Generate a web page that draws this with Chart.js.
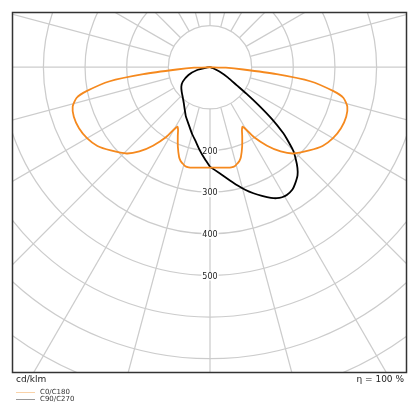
<!DOCTYPE html>
<html>
<head>
<meta charset="utf-8">
<script src="https://cdn.jsdelivr.net/npm/chart.js@4/dist/chart.umd.min.js"></script>
<style>
  html, body { margin: 0; padding: 0; background: #fff; }
  #wrap { width: 420px; height: 420px; }
</style>
</head>
<body>
<div id="wrap"><canvas id="polar-chart"></canvas></div>
<script>
// Light distribution (cd/klm), gamma measured from nadir

const gammaC0 = [0, 5, 10, 12, 14, 16, 17.4, 19, 22, 25, 27, 28.7, 30, 32, 36, 40, 44, 50, 55, 60, 65, 70, 74, 77, 79, 82, 84, 86, 88, 90];
const valuesC0 = [241, 242, 245, 246, 245, 240, 236, 228, 206, 183, 169, 163, 172, 197, 233, 264, 288, 311, 330, 341, 347, 348, 343, 329, 302, 243, 161, 80, 38, 0];
// C180 is the mirror of C0
const valuesC180 = [241, 242, 245, 246, 245, 240, 236, 228, 206, 183, 169, 163, 172, 197, 233, 264, 288, 311, 330, 341, 347, 348, 343, 329, 302, 243, 161, 80, 38, 0];

const gammaC90 = [0, 5, 10, 13, 16, 19, 22, 25, 27, 29, 31, 34, 36, 39, 41, 43, 45, 47, 48, 50, 52, 54, 56, 60, 65, 70, 80, 90];
const valuesC90 = [239, 255, 276, 291, 306, 320, 333, 346, 353, 357, 358, 354, 347, 334, 320, 302, 282, 252, 237, 195, 148, 108, 77, 50, 26, 8, 2, 0];

const gammaC270 = [0, 3, 7, 11, 15, 20, 26, 31, 36, 41, 49, 56, 62, 70, 77, 84, 90];
const valuesC270 = [239, 222, 201, 181, 166, 148, 132, 118, 107, 99, 90, 83, 74, 55, 33, 6, 0];

const ringValues = [100, 200, 300, 400, 500, 600, 700, 800, 900, 1000];
const ringLabels = [200, 300, 400, 500];
const spokeStep = 15;

const unitLabel = "cd/klm";
const effLabel = "η = 100 %";

const ORANGE = "#f5891e";
const BLACK = "#000000";

// polar -> cartesian, side = +1 right half, -1 left half
function toXY(gammas, values, side) {
  return gammas.map((g, i) => {
    const a = g * Math.PI / 180;
    return { x: side * values[i] * Math.sin(a), y: values[i] * Math.cos(a) };
  });
}

const curveA = toXY(gammaC0, valuesC180, -1).reverse().concat(toXY(gammaC0, valuesC0, 1));
const curveB = toXY(gammaC270, valuesC270, -1).reverse().concat(toXY(gammaC90, valuesC90, 1));

const polarGrid = {
  id: "polarGrid",
  beforeDatasetsDraw(chart) {
    const { ctx, chartArea: { left, top, right, bottom }, scales: { x, y } } = chart;
    const cx = x.getPixelForValue(0);
    const cy = y.getPixelForValue(0);
    const k = x.getPixelForValue(100) - cx;
    ctx.save();
    ctx.beginPath();
    ctx.rect(left, top, right - left, bottom - top);
    ctx.clip();
    ctx.strokeStyle = "#cccccc";
    ctx.lineWidth = 1.25;
    ringValues.forEach((r) => {
      ctx.beginPath();
      ctx.arc(cx, cy, r * k / 100, 0, Math.PI * 2);
      ctx.stroke();
    });
    for (let a = 0; a < 360; a += spokeStep) {
      const t = a * Math.PI / 180;
      const r0 = ringValues[0] * k / 100;
      const r1 = 1200 * k / 100;
      ctx.beginPath();
      ctx.moveTo(cx + r0 * Math.sin(t), cy + r0 * Math.cos(t));
      ctx.lineTo(cx + r1 * Math.sin(t), cy + r1 * Math.cos(t));
      ctx.stroke();
    }
    ctx.font = "8px 'DejaVu Sans'";
    ctx.textAlign = "center";
    ctx.textBaseline = "middle";
    ringLabels.forEach((r) => {
      const py = y.getPixelForValue(r) + 1;
      const w = ctx.measureText(String(r)).width;
      ctx.fillStyle = "#ffffff";
      ctx.fillRect(cx - w / 2 - 1, py - 4, w + 2, 8);
      ctx.fillStyle = "#222";
      ctx.fillText(String(r), cx, py);
    });
    ctx.restore();
  },
  afterDraw(chart) {
    const { ctx, chartArea: { left, top, right, bottom } } = chart;
    ctx.save();
    ctx.strokeStyle = "#333";
    ctx.lineWidth = 1.5;
    ctx.strokeRect(left - 0.5, top - 0.5, right - left, bottom - top);

    ctx.fillStyle = "#222";
    ctx.font = "9px 'DejaVu Sans'";
    ctx.textBaseline = "middle";
    ctx.textAlign = "left";
    ctx.fillText(unitLabel, 16, 380);
    ctx.textAlign = "right";
    ctx.fillText(effLabel, 404, 380);

    // legend
    const items = chart.data.datasets.map((d) => d.label);
    const legendColors = ["#f9d2a8", "#999999"];
    ctx.font = "7px 'DejaVu Sans'";
    ctx.textAlign = "left";
    items.forEach((label, i) => {
      const ly = 392.5 + i * 7;
      ctx.strokeStyle = legendColors[i];
      ctx.lineWidth = 1;
      ctx.beginPath();
      ctx.moveTo(16, ly);
      ctx.lineTo(35, ly);
      ctx.stroke();
      ctx.fillStyle = "#333";
      ctx.fillText(label, 40, ly);
    });
    ctx.restore();
  }
};

new Chart(document.getElementById("polar-chart"), {
  type: "scatter",
  data: {
    datasets: [{
        label: "C0/C180",
        data: curveA,
        showLine: true,
        borderColor: ORANGE,
        borderWidth: 1.8,
        pointRadius: 0,
        tension: 0.2,
      },
      {
        label: "C90/C270",
        data: curveB,
        showLine: true,
        borderColor: BLACK,
        borderWidth: 1.8,
        pointRadius: 0,
        tension: 0.15,
      },
    ],
  },
  options: {
    responsive: true,
    maintainAspectRatio: false,
    animation: false,
    layout: {
      padding: { left: 13, right: 13, top: 13, bottom: 47 },
    },
    plugins: {
      legend: { display: false },
      tooltip: { enabled: false },
    },
    scales: {
      x: { display: false, min: -473, max: 473 },
      y: { display: false, min: -130, max: 734, reverse: true },
    },
  },
  plugins: [polarGrid],
});
</script>
</body>
</html>
